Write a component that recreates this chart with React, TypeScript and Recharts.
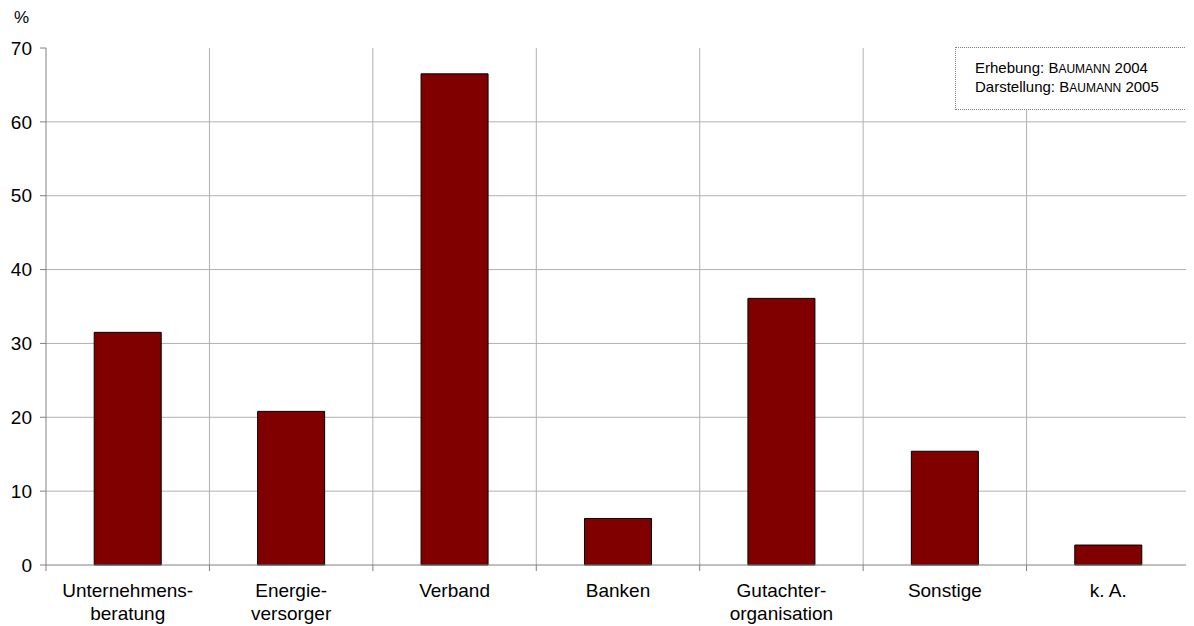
import React from "react"
import { Bar, BarChart, CartesianGrid, XAxis, YAxis } from "recharts"

// Anteil der Befragten je Institution (%)
const categories = [
  "Unternehmens-\nberatung",
  "Energie-\nversorger",
  "Verband",
  "Banken",
  "Gutachter-\norganisation",
  "Sonstige",
  "k. A.",
]
const values = [31.5, 20.8, 66.5, 6.3, 36.1, 15.4, 2.7]
const yTicks = [0, 10, 20, 30, 40, 50, 60, 70]
const gridValues = [10, 20, 30, 40, 50, 60]

const data = categories.map((c, i) => ({ name: c, value: values[i] }))

const W = 1186
const H = 618
const font = "'Liberation Sans', Arial, sans-serif"

function CategoryTick(props: any) {
  const { x, y, payload, index } = props
  const band = (W - 38 - 4) / categories.length
  const lines = String(payload.value).split("\n")
  const left = x - band / 2
  return (
    <g>
      <line x1={left} x2={left} y1={y - 8} y2={y - 2} stroke="#808080" />
      {index === categories.length - 1 && (
        <line x1={left + band} x2={left + band} y1={y - 8} y2={y - 2} stroke="#808080" />
      )}
      <text x={x} y={y + 24} textAnchor="middle" fontSize={19} fill="#000" fontFamily={font}>
        {lines.map((l, i) => (
          <tspan key={i} x={x} dy={i === 0 ? 0 : 23}>
            {l}
          </tspan>
        ))}
      </text>
    </g>
  )
}

const caps = { fontSize: 12, textTransform: "uppercase" as const }

export default function App() {
  return (
    <div style={{ position: "relative", width: W, height: H, fontFamily: font }}>
      <div style={{ position: "absolute", left: 6, top: 0, fontSize: 17 }}>%</div>
      <BarChart
        width={W}
        height={H}
        data={data}
        margin={{ top: 40, right: 4, bottom: 0, left: 0 }}
        barCategoryGap="29.5%"
      >
        <CartesianGrid
          stroke="#b0b0b0"
          horizontalCoordinatesGenerator={({ offset }: any) =>
            gridValues.map((v) => offset.top + offset.height * (1 - v / 70))
          }
          verticalCoordinatesGenerator={({ offset }: any) =>
            categories.slice(1).map((_, i) => offset.left + ((i + 1) * offset.width) / categories.length)
          }
        />
        <XAxis
          dataKey="name"
          interval={0}
          tickLine={false}
          axisLine={{ stroke: "#808080" }}
          tick={<CategoryTick />}
          height={61}
        />
        <YAxis
          domain={[0, 70]}
          ticks={yTicks}
          width={38}
          tickSize={6}
          tickMargin={8}
          axisLine={{ stroke: "#808080" }}
          tickLine={{ stroke: "#808080" }}
          tick={{ fill: "#000", fontSize: 19, fontFamily: font }}
        />
        <Bar dataKey="value" fill="#800000" stroke="#000" strokeWidth={1} isAnimationActive={false} />
      </BarChart>
      <div
        style={{
          position: "absolute",
          left: 947,
          top: 39,
          width: 238,
          height: 63,
          border: "1px dotted #808080",
          boxSizing: "border-box",
          fontSize: 15,
          lineHeight: "18px",
          padding: "11px 0 0 19px",
          background: "#fff",
        }}
      >
        <div>
          Erhebung: B<span style={caps}>aumann</span> 2004
        </div>
        <div>
          Darstellung: B<span style={caps}>aumann</span> 2005
        </div>
      </div>
    </div>
  )
}
